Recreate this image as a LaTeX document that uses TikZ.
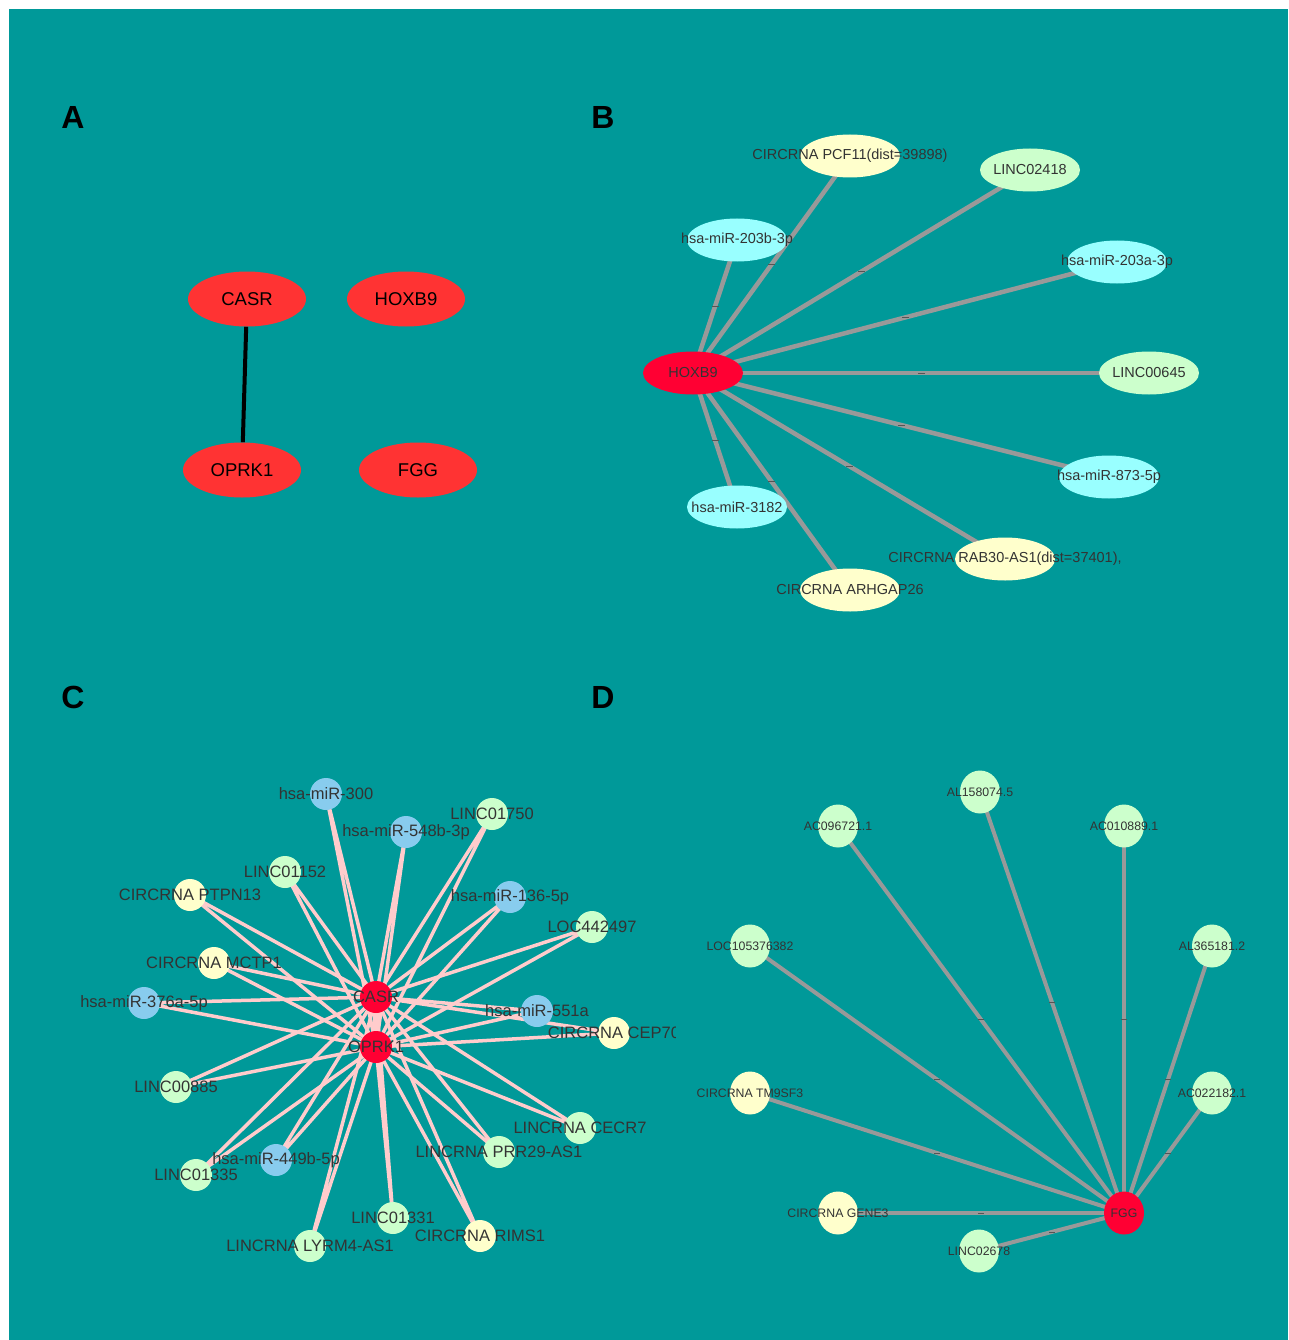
\documentclass[tikz,border=0pt]{standalone}
\usepackage{fontspec}
\setmainfont{Liberation Sans}
\usetikzlibrary{shapes.geometric}
\definecolor{tealbg}{HTML}{009999}
\definecolor{redA}{HTML}{FF3333}
\definecolor{redH}{HTML}{FF0033}
\definecolor{lncg}{HTML}{CCFFCC}
\definecolor{circy}{HTML}{FFFFCC}
\definecolor{mircy}{HTML}{99FFFF}
\definecolor{mirbl}{HTML}{88CCEE}
\definecolor{edgegray}{HTML}{999999}
\definecolor{edgepink}{HTML}{FFCCCC}
\definecolor{txt}{HTML}{333333}
\definecolor{tickc}{HTML}{555555}
\pgfdeclarelayer{bg}
\pgfdeclarelayer{edges}
\pgfsetlayers{bg,edges,main}
\tikzset{
  panel/.style={font=\fontsize{32}{36}\selectfont\bfseries, text=black, inner sep=0pt},
  nA/.style={ellipse, fill=redA, minimum width=118pt, minimum height=55pt, inner sep=0pt, font=\fontsize{18.5}{22}\selectfont, text=black},
  nB/.style={ellipse, minimum width=100pt, minimum height=43pt, inner sep=0pt, font=\fontsize{14.5}{16}\selectfont, text=txt},
  nC/.style={circle, minimum size=32pt, inner sep=0pt, font=\fontsize{16.5}{18}\selectfont, text=txt},
  nD/.style={ellipse, minimum width=40pt, minimum height=43pt, inner sep=0pt, font=\fontsize{12.3}{14}\selectfont, text=txt},
  hub/.style={fill=redH},
  lnc/.style={fill=lncg},
  circ/.style={fill=circy},
  mirB/.style={fill=mircy},
  mirC/.style={fill=mirbl},
  eA/.style={draw=black, line width=4pt},
  eB/.style={draw=edgegray, line width=4.5pt},
  eC/.style={draw=edgepink, line width=3.5pt},
  eD/.style={draw=edgegray, line width=4pt},
  emark/.style={midway, fill=tickc, inner sep=0pt, minimum width=7pt, minimum height=1pt}
}
\newcommand{\zb}[1]{\makebox[0pt]{#1}}
\begin{document}
\begin{tikzpicture}[x=1pt,y=-1pt]
\useasboundingbox (0,0) rectangle (1288,1340);
\begin{pgfonlayer}{bg}
  \fill[white] (0,0) rectangle (1288,1340);
  \fill[tealbg] (9,9) rectangle (1288,1340);
\end{pgfonlayer}

% panel letters
\node[panel] (lA) at (73,117) {A};
\node[panel] (lB) at (603,117) {B};
\node[panel] (lC) at (73,697) {C};
\node[panel] (lD) at (603,697) {D};

% ---------- Panel A ----------
\node[nA] (casrA) at (247,299) {\zb{CASR}};
\node[nA] (hoxbA) at (406,299) {\zb{HOXB9}};
\node[nA] (oprkA) at (242,470) {\zb{OPRK1}};
\node[nA] (fggA)  at (418,470) {\zb{FGG}};
\begin{pgfonlayer}{edges}
  \draw[eA] (casrA) -- (oprkA);
\end{pgfonlayer}

% ---------- Panel B ----------
\node[nB, hub]  (hoxb)  at (693,373) {\zb{HOXB9}};
\node[nB, circ] (pcf)   at (850,156) {\zb{CIRCRNA PCF11(dist=39898)}};
\node[nB, lnc]  (l2418) at (1030,170) {\zb{LINC02418}};
\node[nB, mirB] (m203b) at (737,240) {\zb{hsa-miR-203b-3p}};
\node[nB, mirB] (m203a) at (1117,262) {\zb{hsa-miR-203a-3p}};
\node[nB, lnc]  (l645)  at (1149,373) {\zb{LINC00645}};
\node[nB, mirB] (m873)  at (1109,477) {\zb{hsa-miR-873-5p}};
\node[nB, mirB] (m3182) at (737,507) {\zb{hsa-miR-3182}};
\node[nB, circ] (rab)   at (1005,559) {\zb{CIRCRNA RAB30-AS1(dist=37401),}};
\node[nB, circ] (arh)   at (850,590) {\zb{CIRCRNA ARHGAP26}};
\begin{pgfonlayer}{edges}
  \foreach \n in {pcf,l2418,m203b,m203a,l645,m873,m3182,rab,arh}
    \draw[eB] (hoxb.center) -- node[emark]{} (\n.center);
\end{pgfonlayer}

% ---------- Panel C ----------
\begin{scope}
\clip (9,640) rectangle (675,1340);
\node[nC, mirC] (m300)  at (326,794)  {\zb{hsa-miR-300}};
\node[nC, mirC] (m548)  at (406,832)  {\zb{hsa-miR-548b-3p}};
\node[nC, lnc]  (l1750) at (492,814)  {\zb{LINC01750}};
\node[nC, lnc]  (l1152) at (285,872)  {\zb{LINC01152}};
\node[nC, circ] (cptpn) at (190,895)  {\zb{CIRCRNA PTPN13}};
\node[nC, mirC] (m136)  at (510,897)  {\zb{hsa-miR-136-5p}};
\node[nC, lnc]  (loc442) at (592,927) {\zb{LOC442497}};
\node[nC, circ] (cmctp) at (214,963)  {\zb{CIRCRNA MCTP1}};
\node[nC, mirC] (m376)  at (144,1003) {\zb{hsa-miR-376a-5p}};
\node[nC, mirC] (m551)  at (537,1011) {\zb{hsa-miR-551a}};
\node[nC, circ] (ccep)  at (614,1033) {\zb{CIRCRNA CEP70}};
\node[nC, lnc]  (l885)  at (176,1087) {\zb{LINC00885}};
\node[nC, lnc]  (lcecr) at (580,1128) {\zb{LINCRNA CECR7}};
\node[nC, lnc]  (lprr)  at (499,1152) {\zb{LINCRNA PRR29-AS1}};
\node[nC, mirC] (m449)  at (276,1160) {\zb{hsa-miR-449b-5p}};
\node[nC, lnc]  (l1335) at (196,1175) {\zb{LINC01335}};
\node[nC, lnc]  (l1331) at (393,1218) {\zb{LINC01331}};
\node[nC, circ] (crims) at (480,1236) {\zb{CIRCRNA RIMS1}};
\node[nC, lnc]  (llyrm) at (310,1246) {\zb{LINCRNA LYRM4-AS1}};
\node[nC, hub]  (casr)  at (376,997)  {\zb{CASR}};
\node[nC, hub]  (oprk)  at (376,1047) {\zb{OPRK1}};
\end{scope}
\begin{pgfonlayer}{edges}
  \draw[eC, line width=6pt] (casr.center) -- (oprk.center);
  \foreach \n in {m300,m548,l1750,l1152,cptpn,m136,loc442,cmctp,m376,m551,ccep,l885,lcecr,lprr,m449,l1335,l1331,crims,llyrm}
    \draw[eC] (\n.center) -- (casr.center) (\n.center) -- (oprk.center);
\end{pgfonlayer}

% ---------- Panel D ----------
\node[nD, hub]  (fgg)    at (1124,1213) {\zb{FGG}};
\node[nD, lnc]  (al158)  at (980,792)   {\zb{AL158074.5}};
\node[nD, lnc]  (ac096)  at (838,826)   {\zb{AC096721.1}};
\node[nD, lnc]  (ac010)  at (1124,826)  {\zb{AC010889.1}};
\node[nD, lnc]  (loc105) at (750,946)   {\zb{LOC105376382}};
\node[nD, lnc]  (al365)  at (1212,946)  {\zb{AL365181.2}};
\node[nD, circ] (ctm9)   at (750,1093)  {\zb{CIRCRNA TM9SF3}};
\node[nD, lnc]  (ac022)  at (1212,1093) {\zb{AC022182.1}};
\node[nD, circ] (cgene)  at (838,1213)  {\zb{CIRCRNA GENE3}};
\node[nD, lnc]  (l2678)  at (979,1251)  {\zb{LINC02678}};
\begin{pgfonlayer}{edges}
  \foreach \n in {al158,ac096,ac010,loc105,al365,ctm9,ac022,cgene,l2678}
    \draw[eD] (\n.center) -- node[emark, minimum width=6pt]{} (fgg.center);
\end{pgfonlayer}
\end{tikzpicture}
\end{document}
